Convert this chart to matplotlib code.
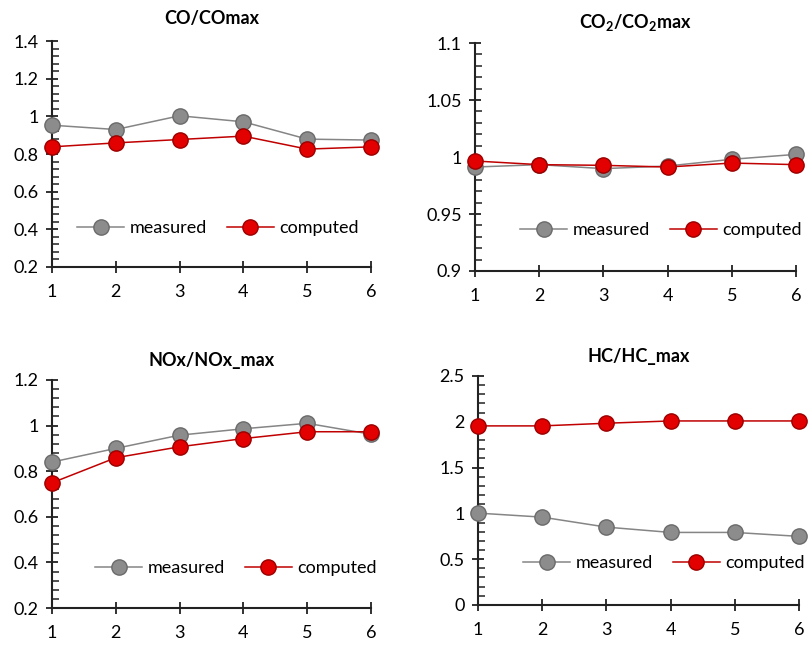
import numpy as np
import matplotlib
matplotlib.use("Agg")
import matplotlib.pyplot as plt
from matplotlib.ticker import MultipleLocator

plt.rcParams['font.family'] = ['Lato', 'DejaVu Sans']
plt.rcParams['mathtext.fontset'] = 'custom'
plt.rcParams['mathtext.rm'] = 'Lato'
plt.rcParams['mathtext.bf'] = 'Lato:bold'

# data
cases = [1, 2, 3, 4, 5, 6]

co_measured = [0.953, 0.930, 1.003, 0.971, 0.879, 0.874]
co_computed = [0.838, 0.859, 0.877, 0.895, 0.826, 0.838]

co2_measured = [0.9912, 0.9933, 0.9898, 0.9921, 0.9980, 1.0023]
co2_computed = [0.9965, 0.9933, 0.9927, 0.9912, 0.9947, 0.9933]

nox_measured = [0.840, 0.900, 0.958, 0.986, 1.010, 0.962]
nox_computed = [0.749, 0.859, 0.907, 0.943, 0.973, 0.973]

hc_measured = [1.003, 0.959, 0.850, 0.792, 0.792, 0.749]
hc_computed = [1.955, 1.955, 1.984, 2.009, 2.009, 2.009]

titles = ['CO/COmax', r'CO$_\mathbf{2}$/CO$_\mathbf{2}$max', 'NOx/NOx_max', 'HC/HC_max']
ylims = [(0.2, 1.4), (0.9, 1.1), (0.2, 1.2), (0.0, 2.5)]
ysteps = [0.2, 0.05, 0.2, 0.5]

fig = plt.figure(figsize=(8.1, 6.46), dpi=100)
boxes = [
    [0.0642, 0.5867, 0.3938, 0.3498],
    [0.5864, 0.5805, 0.3963, 0.3529],
    [0.0642, 0.0588, 0.3938, 0.3530],
    [0.5901, 0.0635, 0.3963, 0.3545],
]
legpos = [(0.52, 0.173), (0.58, 0.18), (0.577, 0.175), (0.58, 0.183)]
pads = [12.5, 10.5, 10, 10]

series = [
    (co_measured, co_computed),
    (co2_measured, co2_computed),
    (nox_measured, nox_computed),
    (hc_measured, hc_computed),
]

for i, (meas, comp) in enumerate(series):
    ax = fig.add_axes(boxes[i])
    ax.plot(cases, meas, color='#858585', lw=1.1, marker='o', ms=11,
            mfc='#8c8c8c', mec='#6a6a6a', mew=1.0, label='measured',
            clip_on=False, zorder=3)
    ax.plot(cases, comp, color='#c00000', lw=1.1, marker='o', ms=11,
            mfc='#e30000', mec='#9a0000', mew=1.0, label='computed',
            clip_on=False, zorder=4)
    ax.set_xlim(1, 6)
    ax.set_ylim(*ylims[i])
    ax.set_xticks(cases)
    ax.yaxis.set_major_locator(MultipleLocator(ysteps[i]))
    ax.yaxis.set_minor_locator(MultipleLocator(ysteps[i] / 5))
    ax.yaxis.set_major_formatter(plt.FuncFormatter(lambda v, p: ('%g' % round(v, 3))))
    for s in ['top', 'right']:
        ax.spines[s].set_visible(False)
    for s in ['left', 'bottom']:
        ax.spines[s].set_linewidth(1.5)
        ax.spines[s].set_color('#222222')
    ax.tick_params(axis='both', which='major', direction='inout', length=9,
                   width=1.3, labelsize=13, colors='#222222', labelcolor='black')
    ax.tick_params(axis='y', which='minor', direction='in', length=5, width=1.1,
                   colors='#222222')
    ax.tick_params(axis='x', pad=8)
    ax.tick_params(axis='y', pad=5)
    ax.set_title(titles[i], fontsize=13, fontweight='bold', pad=pads[i])
    ax.legend(loc='center', bbox_to_anchor=legpos[i], ncol=2, frameon=False,
              fontsize=13, handlelength=2.6, handletextpad=0.3,
              columnspacing=1.1, borderpad=0)

fig.savefig('out.png', dpi=100)
